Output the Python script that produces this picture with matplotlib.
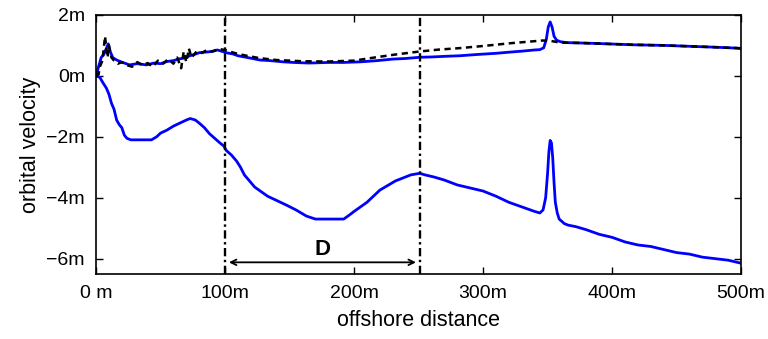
import matplotlib
matplotlib.use("Agg")
import matplotlib.pyplot as plt

# data
low_x = [0, 3, 5, 8, 10, 12, 14, 16, 18, 20, 22, 24, 27, 35, 43, 47, 50, 55, 60, 65,
         70, 73, 77, 80, 84, 88, 92, 96, 99, 101, 105, 109, 112, 115, 119, 123, 128, 133, 138, 143,
         148, 155, 163, 170, 180, 192, 196, 200, 205, 210, 215, 220, 226, 232, 238, 244, 248, 251, 255, 262,
         270, 280, 290, 300, 310, 320, 330, 340, 344, 346.5, 348.5, 350, 351, 352, 353, 354, 355, 356, 357.5, 359,
         363, 366, 372, 380, 390, 400, 410, 420, 430, 440, 450, 460, 470, 480, 490, 495, 500]
low_y = [0.0, -0.05, -0.2, -0.4, -0.6, -0.9, -1.1, -1.45, -1.6, -1.7, -1.95, -2.05, -2.1, -2.1, -2.1, -2.0, -1.88, -1.78, -1.65, -1.55,
         -1.45, -1.4, -1.45, -1.55, -1.7, -1.9, -2.05, -2.2, -2.3, -2.45, -2.6, -2.8, -3.0, -3.25, -3.45, -3.65, -3.8, -3.95, -4.05, -4.15,
         -4.25, -4.4, -4.6, -4.7, -4.7, -4.7, -4.58, -4.45, -4.3, -4.15, -3.95, -3.75, -3.6, -3.45, -3.35, -3.25, -3.22, -3.2, -3.25, -3.32,
         -3.42, -3.58, -3.68, -3.78, -3.95, -4.15, -4.3, -4.45, -4.5, -4.4, -4.0, -3.2, -2.5, -2.12, -2.2, -2.7, -3.5, -4.15, -4.5, -4.7,
         -4.85, -4.9, -4.95, -5.05, -5.2, -5.3, -5.45, -5.55, -5.6, -5.7, -5.8, -5.85, -5.95, -6.0, -6.05, -6.1, -6.15]

up_x = [0, 2, 4, 6, 8, 9.5, 11, 13, 16, 20, 26, 32, 39, 45, 50, 55, 60, 65, 68, 72,
        76, 80, 85, 90, 94, 98, 102, 106, 110, 115, 120, 127, 135, 145, 153, 165, 180, 192, 205, 218,
        230, 240, 251, 260, 270, 282, 295, 310, 321, 330, 340, 344, 347, 349, 350.5, 352, 353.5, 355, 357, 360,
        365, 375, 390, 416, 440, 460, 480, 497, 500]
up_y = [0.0, 0.3, 0.6, 0.7, 0.9, 1.05, 0.8, 0.6, 0.52, 0.45, 0.36, 0.4, 0.36, 0.42, 0.4, 0.47, 0.5, 0.56, 0.58, 0.65,
        0.7, 0.76, 0.78, 0.8, 0.85, 0.8, 0.75, 0.72, 0.66, 0.62, 0.58, 0.52, 0.5, 0.46, 0.44, 0.42, 0.44, 0.44, 0.46, 0.5,
        0.55, 0.57, 0.61, 0.62, 0.64, 0.66, 0.7, 0.74, 0.78, 0.81, 0.85, 0.86, 0.92, 1.2, 1.6, 1.77, 1.6, 1.3, 1.17, 1.12,
        1.09, 1.08, 1.06, 1.02, 1.0, 0.97, 0.94, 0.91, 0.9]

bk_x = [0, 2, 3, 5, 7, 8, 9, 10, 12, 14, 17, 20, 24, 28, 32, 36, 40, 44, 48, 52,
        56, 60, 63, 66, 68, 70, 72, 74, 78, 82, 86, 90, 95, 100, 105, 110, 118, 127, 140, 160,
        179, 200, 217, 232, 251, 265, 282, 300, 321, 335, 346, 352, 360, 375, 390, 416, 440, 460, 480, 497, 500]
bk_y = [0.0, 0.05, 0.3, 0.5, 1.3, 0.9, 0.6, 1.0, 0.6, 0.5, 0.4, 0.45, 0.35, 0.3, 0.45, 0.35, 0.42, 0.3, 0.5, 0.4,
        0.55, 0.4, 0.6, 0.25, 0.8, 0.45, 0.9, 0.6, 0.8, 0.75, 0.85, 0.8, 0.88, 0.85, 0.78, 0.72, 0.65, 0.58, 0.52, 0.48,
        0.47, 0.5, 0.61, 0.7, 0.8, 0.86, 0.91, 0.98, 1.07, 1.12, 1.16, 1.15, 1.09, 1.08, 1.06, 1.02, 1.0, 0.97, 0.94, 0.91, 0.9]

x_ticks = [0, 100, 200, 300, 400, 500]
x_labels = ["0 m", "100m", "200m", "300m", "400m", "500m"]
y_ticks = [-6, -4, -2, 0, 2]
y_labels = ["\u22126m", "\u22124m", "\u22122m", "0m", "2m"]
d_start, d_end = 100, 251
arrow_y = -6.12

plt.rcParams['font.family'] = ['Liberation Sans', 'DejaVu Sans']

fig = plt.figure(figsize=(7.68, 3.39), dpi=100)
ax = fig.add_axes([0.125, 0.192, 0.84, 0.764])

ax.plot(low_x, low_y, color='#0000ff', lw=2)
ax.plot(up_x, up_y, color='#0000ff', lw=2)
ax.plot(bk_x, bk_y, color='black', lw=1.8, linestyle=(0, (2.5, 1.8)))

for xv in (d_start, d_end):
    ax.axvline(xv, color='black', lw=1.7, linestyle=(0, (3.5, 1.5, 1, 1.5)))

ax.annotate('', xy=(d_start + 3, arrow_y), xytext=(d_end - 3, arrow_y),
            arrowprops=dict(arrowstyle='<->', color='black', lw=1.3, shrinkA=0, shrinkB=0))
ax.text((d_start + d_end) / 2, arrow_y + 0.08, 'D', ha='center', va='bottom',
        fontsize=16, fontweight='bold')

ax.set_xlim(0, 500)
ax.set_ylim(-6.5, 2)
ax.set_xticks(x_ticks)
ax.set_xticklabels(x_labels)
ax.set_yticks(y_ticks)
ax.set_yticklabels(y_labels)
ax.tick_params(direction='in', top=True, right=True, length=5, width=1, labelsize=14, pad=8)
for s in ax.spines.values():
    s.set_linewidth(1.2)
ax.set_xlabel('offshore distance', fontsize=15.5, labelpad=6)
ax.set_ylabel('orbital velocity', fontsize=15.5, labelpad=4)

fig.savefig('out.png', dpi=100)
